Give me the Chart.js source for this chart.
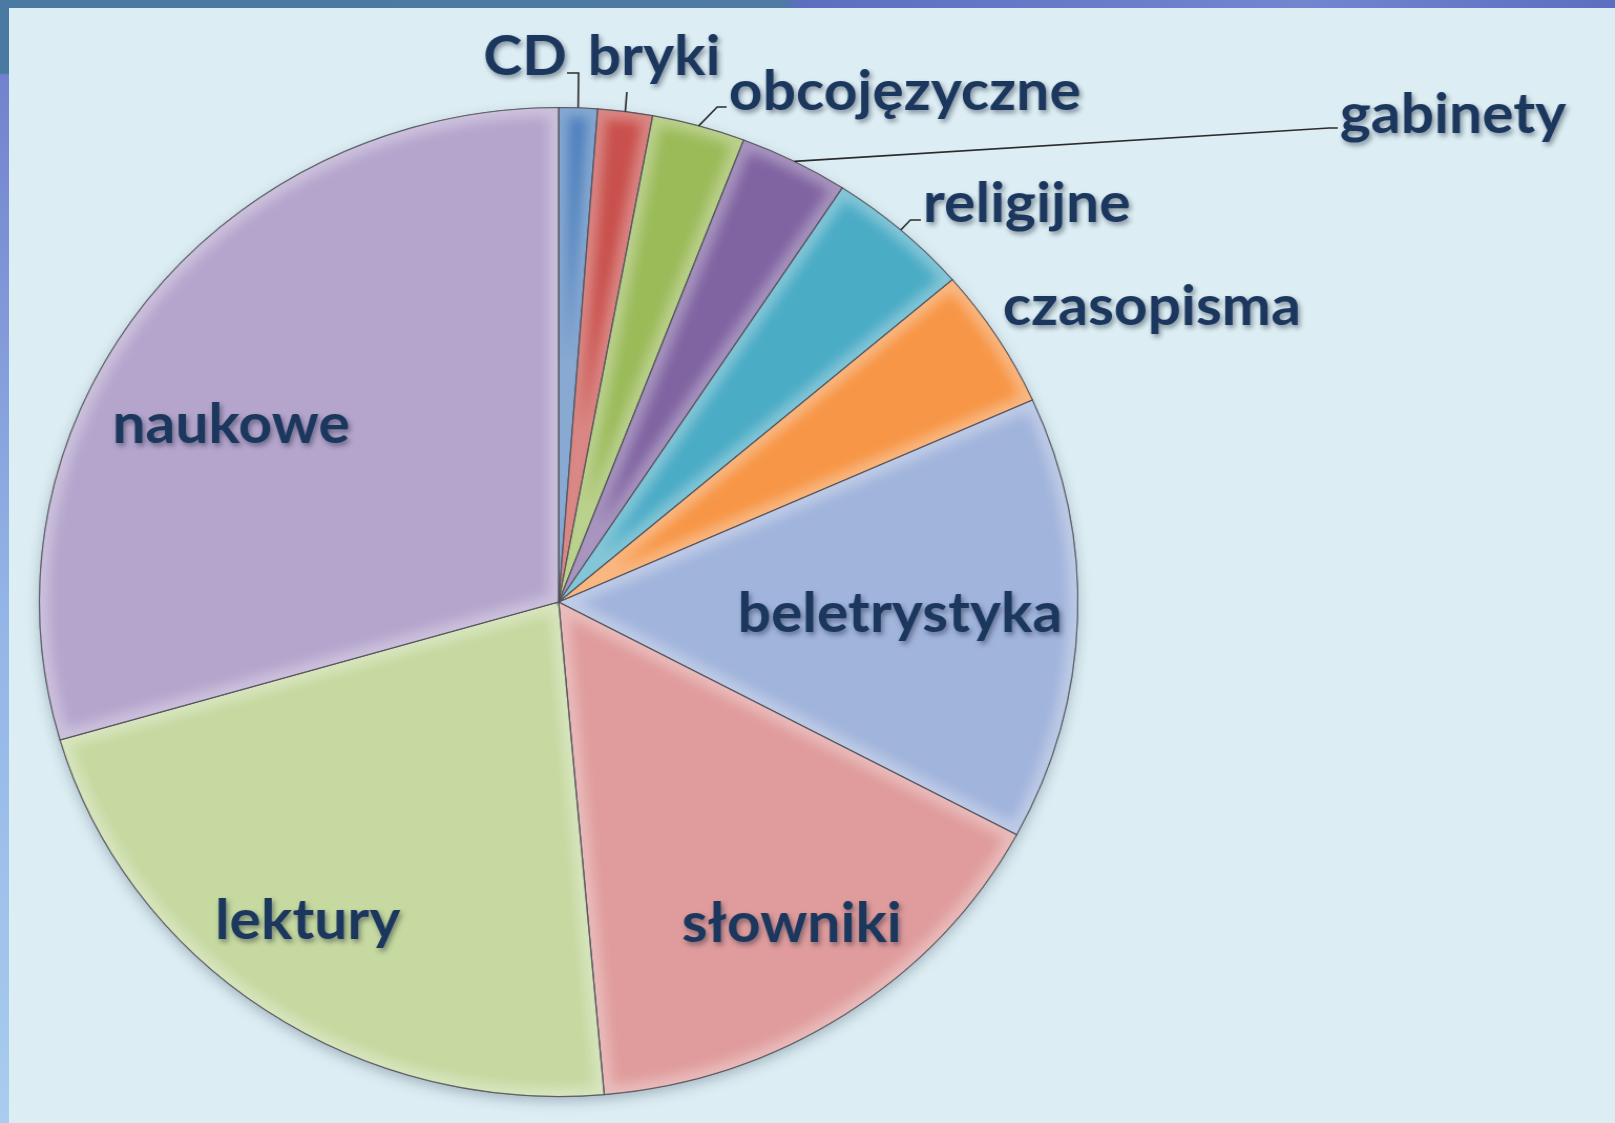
<!DOCTYPE html>
<html>
<head>
<meta charset="utf-8">
<title>Księgozbiór</title>
<script src="https://cdn.jsdelivr.net/npm/chart.js@4.4.1/dist/chart.umd.min.js"></script>
<style>
    html, body { margin: 0; padding: 0; }
    body {
        width: 1615px; height: 1123px; overflow: hidden; position: relative;
        background: #dcedf3;
    }
    #topband {
        position: absolute; left: 0; top: 0; width: 1615px; height: 8px;
        background: linear-gradient(to right, #4a79a1 0, #4e7aa3 780px, #5b6ec0 800px, #7286d0 1300px, #5b6ec0 1615px);
    }
    #leftband {
        position: absolute; left: 0; top: 0; width: 9px; height: 1123px;
        background: linear-gradient(to bottom, #4a79a1 0, #4a79a1 73px, #7282ce 75px, #93b4e6 600px, #a9ccef 1123px);
    }
    /* slajd jest lekko rozciągnięty w poziomie */
    #wrap {
        position: absolute; left: 0; top: 0; width: 1538px; height: 1123px;
        transform: scaleX(1.05); transform-origin: 0 0;
    }
</style>
</head>
<body>
<div id="topband"></div>
<div id="leftband"></div>
<div id="wrap"><canvas id="chart"></canvas></div>
<script>
const categories = ["CD", "bryki", "obcojęzyczne", "gabinety", "religijne", "czasopisma", "beletrystyka", "słowniki", "lektury", "naukowe"];
const shares = [1.2, 1.7, 2.9, 3.4, 4.5, 4.6, 14.5, 15.8, 21.9, 29.5];
const sliceColors = ["#4f81bd", "#c9504c", "#9bbb59", "#8064a2", "#4bacc6", "#f79646", "#a1b4dc", "#e09c9c", "#c6d9a0", "#b5a5cd"];

// położenie podpisów (układ, nie dane); leader = punkty załamania linii odniesienia
const labelLayout = [
    { x: 500, y: 75, align: "center", leader: [[551, 73], [540, 73]] },
    { x: 623, y: 75, align: "center", leader: [[597, 92]] },
    { x: 694, y: 110, align: "left", leader: [[683, 107], [692, 107]] },
    { x: 1276, y: 133, align: "left", leader: [[1266, 128], [1274, 128]] },
    { x: 879, y: 222, align: "left", leader: [[867, 220], [877, 220]] },
    { x: 955, y: 325, align: "left" },
    { x: 857, y: 632, align: "center" },
    { x: 754, y: 942, align: "center" },
    { x: 293, y: 939, align: "center" },
    { x: 220, y: 443, align: "center" },
];

const slicePath = (ctx, a) => {
    ctx.beginPath();
    ctx.moveTo(a.x, a.y);
    ctx.arc(a.x, a.y, a.outerRadius, a.startAngle, a.endAngle);
    ctx.closePath();
};

const pieShadow = {
    id: "pieShadow",
    beforeDatasetsDraw(chart) {
        const a = chart.getDatasetMeta(0).data[0];
        if (!a) return;
        const p = a.getProps(["x", "y", "outerRadius"]);
        const ctx = chart.ctx;
        ctx.save();
        ctx.shadowColor = "rgba(40,60,80,0.35)";
        ctx.shadowBlur = 14;
        ctx.shadowOffsetY = 5;
        ctx.beginPath();
        ctx.arc(p.x, p.y, p.outerRadius - 1, 0, Math.PI * 2);
        ctx.fillStyle = "#b0b0b0";
        ctx.fill();
        ctx.restore();
    },
};

const bevelAndLabels = {
    id: "bevelAndLabels",
    afterDatasetsDraw(chart) {
        const ctx = chart.ctx;
        const arcs = chart.getDatasetMeta(0).data;

        // miękka faza na krawędziach wycinków
        arcs.forEach((el) => {
            const a = el.getProps(["x", "y", "startAngle", "endAngle", "outerRadius"]);
            ctx.save();
            slicePath(ctx, a);
            ctx.clip();
            ctx.filter = "blur(6px)";
            ctx.lineWidth = 18;
            ctx.strokeStyle = "rgba(255,255,255,0.32)";
            ctx.stroke();
            ctx.restore();
            ctx.save();
            slicePath(ctx, a);
            ctx.lineWidth = 1.2;
            ctx.strokeStyle = "rgba(70,70,80,0.65)";
            ctx.stroke();
            ctx.restore();
        });

        // linie odniesienia
        arcs.forEach((el, i) => {
            const lay = labelLayout[i];
            if (!lay.leader) return;
            const a = el.getProps(["x", "y", "startAngle", "endAngle", "outerRadius"]);
            const mid = (a.startAngle + a.endAngle) / 2;
            ctx.save();
            ctx.beginPath();
            ctx.moveTo(a.x + Math.cos(mid) * a.outerRadius, a.y + Math.sin(mid) * a.outerRadius);
            lay.leader.forEach(([lx, ly]) => ctx.lineTo(lx, ly));
            ctx.lineWidth = 1.6;
            ctx.strokeStyle = "#2b2b2b";
            ctx.stroke();
            ctx.restore();
        });

        // podpisy
        ctx.save();
        ctx.font = "bold 56px Lato, 'Open Sans', sans-serif";
        ctx.textBaseline = "alphabetic";
        ctx.fillStyle = "#1b375e";
        ctx.shadowColor = "rgba(20,30,50,0.45)";
        ctx.shadowBlur = 5;
        ctx.shadowOffsetX = 2;
        ctx.shadowOffsetY = 3;
        categories.forEach((name, i) => {
            const lay = labelLayout[i];
            ctx.textAlign = lay.align;
            ctx.fillText(name, lay.x, lay.y);
        });
        ctx.restore();
    },
};

new Chart(document.getElementById("chart"), {
    type: "pie",
    data: {
        labels: categories,
        datasets: [
            {
                data: shares,
                backgroundColor: sliceColors,
                borderColor: "rgba(70,70,80,0.65)",
                borderWidth: 1,
                hoverOffset: 0,
            },
        ],
    },
    options: {
        responsive: true,
        maintainAspectRatio: false,
        animation: false,
        layout: {
            padding: { top: 107, bottom: 26, left: 37, right: 511 },
        },
        plugins: {
            legend: { display: false },
            tooltip: { enabled: false },
        },
    },
    plugins: [pieShadow, bevelAndLabels],
});
</script>
</body>
</html>
